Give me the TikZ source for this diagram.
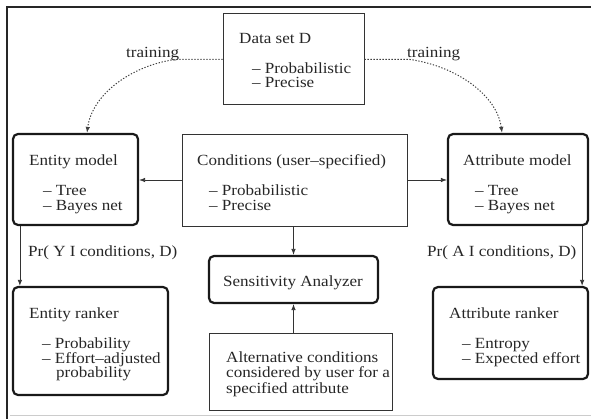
\documentclass[tikz,border=0pt]{standalone}
\usepackage{fontspec}
\setmainfont[FakeStretch=1.1]{Liberation Serif}
\usetikzlibrary{arrows.meta}
\begin{document}
\begin{tikzpicture}[x=1pt,y=-1pt,
  every node/.style={font=\fontsize{15.5}{14.5}\selectfont, text=black!85, inner sep=0pt},
  txt/.style={anchor=base west},
  thinbox/.style={draw=black!80, line width=0.9pt},
  thickbox/.style={draw=black!90, line width=2.2pt, rounded corners=5pt},
  arr/.style={draw=black!80, line width=0.8pt, -{Latex[length=6pt,width=4.5pt]}},
  dotarr/.style={draw=black!75, line width=1pt, dash pattern=on 1.3pt off 1.7pt, -{Latex[length=6pt,width=4.5pt]}}]
\useasboundingbox (0,0) rectangle (591,419);
% outer frame
\draw[line width=1.3pt, black!85] (591,7) -- (7,7) -- (7,419);
\draw[line width=0.8pt, black!20] (10,415) -- (591,415);

% boxes
\node[thinbox, minimum width=141pt, minimum height=91pt] (data) at (293.5,58.5) {};
\node[thickbox, minimum width=125pt, minimum height=91pt] (ent) at (75.5,179.5) {};
\node[thinbox, minimum width=225pt, minimum height=92pt] (cond) at (294.5,180) {};
\node[thickbox, minimum width=140pt, minimum height=91pt] (attr) at (518,179.5) {};
\node[thickbox, minimum width=169pt, minimum height=47pt] (sens) at (293.5,279.5) {};
\node[thickbox, minimum width=155pt, minimum height=108pt] (erank) at (90.5,341) {};
\node[thinbox, minimum width=183pt, minimum height=77pt] (alt) at (300.5,371.5) {};
\node[thickbox, minimum width=155pt, minimum height=92pt] (arank) at (510.5,333) {};

% texts
\node[txt] (d1) at (239,44) {Data set D};
\node[txt] (d2) at (252,73.5) {– Probabilistic};
\node[txt] (d3) at (252,88) {– Precise};

\node[txt] (e1) at (29,166) {Entity model};
\node[txt] (e2) at (43,196) {– Tree};
\node[txt] (e3) at (43,210.5) {– Bayes net};

\node[txt] (c1) at (197,166) {Conditions (user–specified)};
\node[txt] (c2) at (209,196) {– Probabilistic};
\node[txt] (c3) at (209,210.5) {– Precise};

\node[txt] (a1) at (463,166) {Attribute model};
\node[txt] (a2) at (475,196) {– Tree};
\node[txt] (a3) at (475,210.5) {– Bayes net};

\node[anchor=base] (s1) at (293,287) {Sensitivity Analyzer};

\node[txt] (r1) at (29,319) {Entity ranker};
\node[txt] (r2) at (42,348.5) {– Probability};
\node[txt] (r3) at (42,363) {– Effort–adjusted};
\node[txt] (r4) at (56,377.5) {probability};

\node[txt] (l1) at (226,362) {Alternative conditions};
\node[txt] (l2) at (226,377.5) {considered by user for a};
\node[txt] (l3) at (226,393) {specified attribute};

\node[txt] (q1) at (449,319) {Attribute ranker};
\node[txt] (q2) at (462,348.5) {– Entropy};
\node[txt] (q3) at (462,363) {– Expected effort};

\node[txt] (pe) at (28,257) {Pr( Y I conditions, D)};
\node[txt] (pa) at (427,257) {Pr( A I conditions, D)};

\node[txt] (tl) at (126,58) {training};
\node[txt] (tr) at (407,58) {training};

% connectors
\coordinate (lt) at (175,59.5);
\coordinate (rt) at (410,59.5);
\draw[dotarr] (data.west |- lt) -- (lt) .. controls (130,66) and (92,95) .. ([xshift=11.5pt]ent.north);
\draw[dotarr] (data.east |- rt) -- (rt) .. controls (456,66) and (497,95) .. ([xshift=-16pt]attr.north);

\draw[arr] (cond.west) -- (cond.west -| ent.east);
\draw[arr] (cond.east) -- (cond.east -| attr.west);
\draw[arr] (cond.south -| sens.north) -- (sens.north);
\draw[arr] (alt.north -| sens.south) -- (sens.south);
\draw[arr] ([xshift=8pt]ent.south west) -- ([xshift=8pt]ent.south west |- erank.north);
\draw[arr] ([xshift=-7pt]attr.south east) -- ([xshift=-7pt]attr.south east |- arank.north);
\end{tikzpicture}
\end{document}
